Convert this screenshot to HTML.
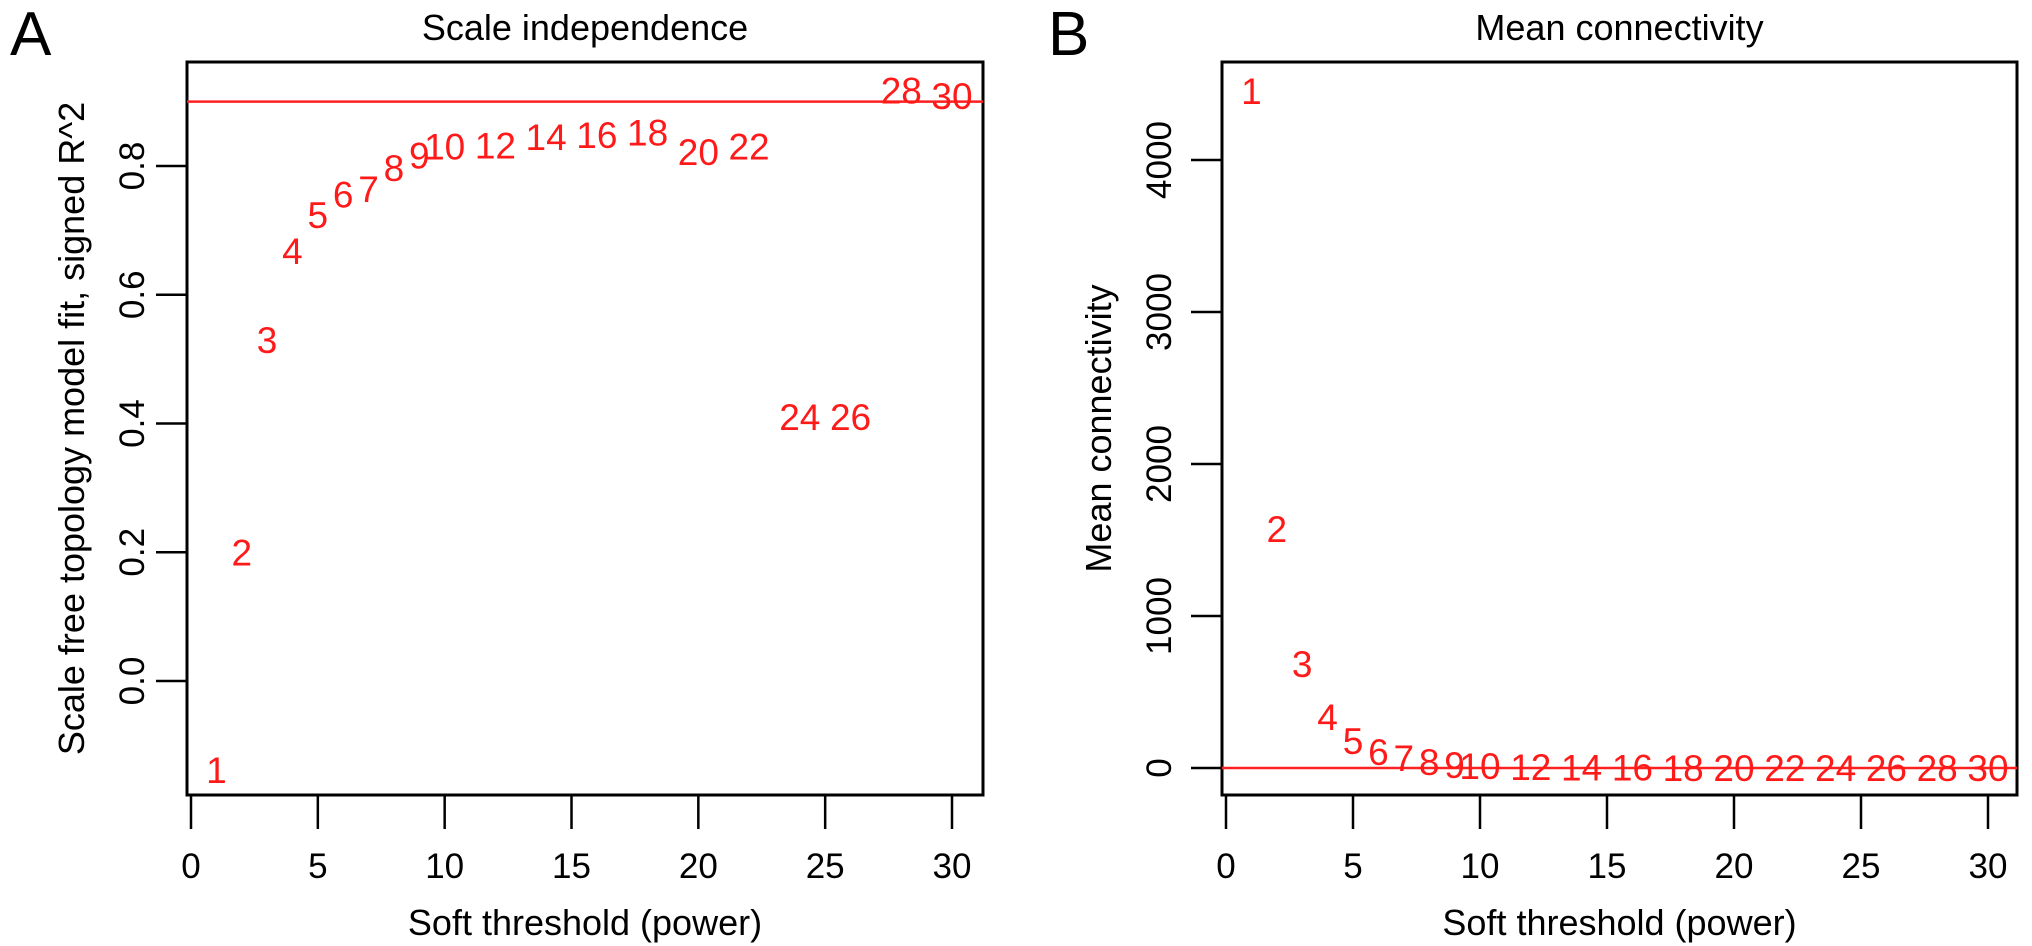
<!DOCTYPE html>
<html><head><meta charset="utf-8"><style>
html,body{margin:0;padding:0;background:#fff;}
svg{display:block;font-family:"Liberation Sans",Arial,sans-serif;}
</style></head><body>
<svg id="fig" width="2032" height="946" viewBox="0 0 2032 946" xmlns="http://www.w3.org/2000/svg">
<text x="10" y="55" font-size="62">A</text>
<text x="1048" y="55" font-size="62">B</text>
<g id="pa"></g>
<g id="pb"></g>
</svg>
<script>
const powers = [1,2,3,4,5,6,7,8,9,10,12,14,16,18,20,22,24,26,28,30];
const r2Values = [-0.138,0.20,0.53,0.668,0.724,0.756,0.764,0.797,0.816,0.83,0.832,0.845,0.848,0.852,0.822,0.83,0.41,0.41,0.917,0.909];
const meanK = [4454,1574,685,336,178,105,66,40,20,13,5,3,2,1,1,0,0,0,0,0];
const xTicks = [0,5,10,15,20,25,30];
const yTicksA = [0.0,0.2,0.4,0.6,0.8];
const yTickLabelsA = ["0.0","0.2","0.4","0.6","0.8"];
const yTicksB = [0,1000,2000,3000,4000];
const thresholdA = 0.9;
const thresholdB = 0;

const NS="http://www.w3.org/2000/svg";
function mk(parent, tag, attrs, text){
  const e=document.createElementNS(NS,tag);
  for(const k in attrs) e.setAttribute(k,attrs[k]);
  if(text!==undefined) e.textContent=text;
  parent.appendChild(e); return e;
}
function panel(g, cfg){
  const {L,R,T,B,x0,x30,ys,title,ytitle,ytx,ttx,yTicks,yLabels,vals,thr}=cfg;
  const X=v=>x0+(x30-x0)*v/30;
  const frame=mk(g,'rect',{x:L,y:T,width:R-L,height:B-T,fill:'none',stroke:'#000','stroke-width':3});
  
  
  const t=mk(g,'text',{x:(L+R)/2,y:40,'font-size':36,'text-anchor':'middle'},title);
  
  
  xTicks.forEach(v=>{
    const l=mk(g,'line',{x1:X(v),x2:X(v),y1:B,y2:829,stroke:'#000','stroke-width':2.5});
    
    
    const tx=mk(g,'text',{x:X(v),y:878,'font-size':35,'text-anchor':'middle'},String(v));
    
    
  });
  const xt=mk(g,'text',{x:(L+R)/2,y:935,'font-size':36,'text-anchor':'middle'},'Soft threshold (power)');
  
  
  yTicks.forEach((v,i)=>{
    const y=ys(v);
    const l=mk(g,'line',{x1:L-31,x2:L,y1:y,y2:y,stroke:'#000','stroke-width':2.5});
    
    
    const tx=mk(g,'text',{x:0,y:0,'font-size':35,'text-anchor':'middle',transform:`translate(${ttx},${y}) rotate(-90)`},yLabels[i]);
    
    
  });
  const yt=mk(g,'text',{x:0,y:0,'font-size':36,'text-anchor':'middle',transform:`translate(${ytx},${(T+B)/2}) rotate(-90)`},ytitle);
  
  
  const hl=mk(g,'line',{x1:L,x2:R,y1:ys(thr),y2:ys(thr),stroke:'#ff2020','stroke-width':2.5});
  
  
  powers.forEach((p,i)=>{
    const tx=mk(g,'text',{x:X(p),y:ys(vals[i])+13,'font-size':37,'text-anchor':'middle',fill:'#ff1a1a'},String(p));
    
    
  });
}
panel(document.getElementById('pa'),{L:187,R:983,T:62,B:795,x0:191,x30:952,
  ys:v=>681-643.75*v,title:'Scale independence',ytitle:'Scale free topology model fit, signed R^2',
  ytx:84,ttx:144,yTicks:yTicksA,yLabels:yTickLabelsA,vals:r2Values,thr:thresholdA});
panel(document.getElementById('pb'),{L:1222,R:2017,T:62,B:795,x0:1226,x30:1988,
  ys:v=>768-0.152*v,title:'Mean connectivity',ytitle:'Mean connectivity',
  ytx:1111,ttx:1171,yTicks:yTicksB,yLabels:yTicksB.map(String),vals:meanK,thr:thresholdB});
</script>
</body></html>
